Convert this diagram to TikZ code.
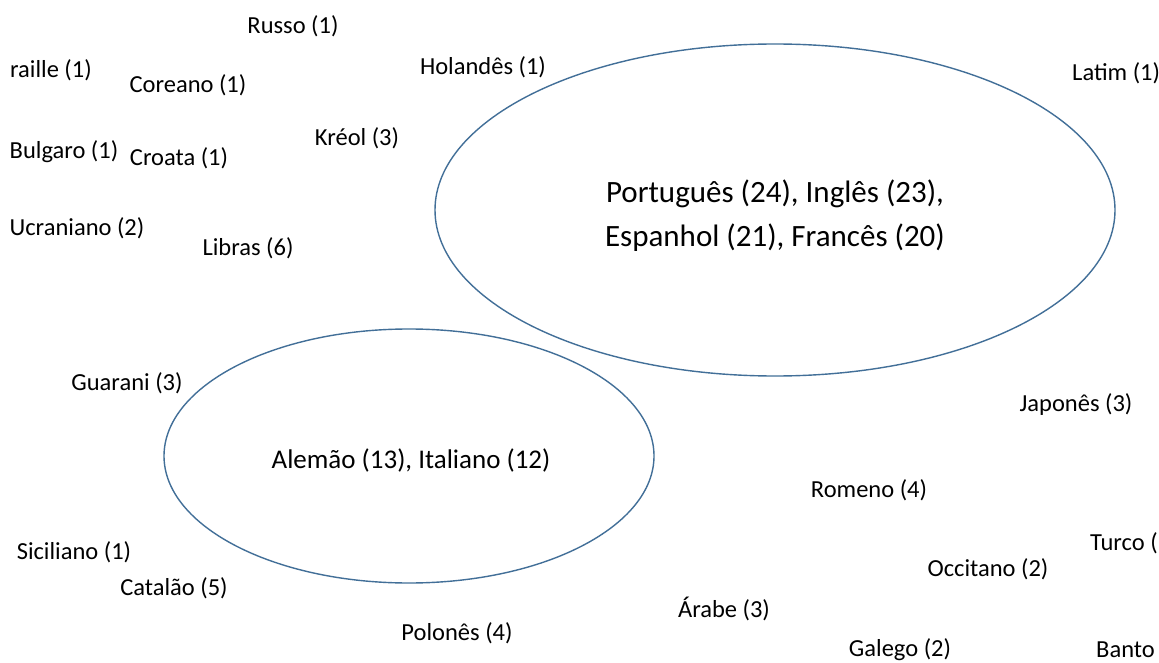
\documentclass[tikz,border=0pt]{standalone}
\usepackage{fontspec}
\setmainfont{Carlito}
\usetikzlibrary{shapes.geometric}
\definecolor{ringblue}{RGB}{66,111,152}
\tikzset{
  lang/.style={inner sep=0pt, anchor=center, font=\fontsize{24.5}{28}\selectfont},
  biglang/.style={inner sep=0pt, align=center, font=\fontsize{31}{44}\selectfont},
  midlang/.style={inner sep=0pt, font=\fontsize{27}{30}\selectfont},
  ring/.style={ellipse, draw=ringblue, line width=1.4pt, inner sep=0pt, outer sep=0pt}
}
\begin{document}
\begin{tikzpicture}[x=1pt,y=-1pt]
\useasboundingbox (0,0) rectangle (1159,663);
\fill[white] (0,0) rectangle (1159,663);
\clip (0,0) rectangle (1159,663);
\node[ring, minimum width=680pt, minimum height=332pt] (big) at (775,210) {};
\node[ring, minimum width=490pt, minimum height=254pt] (small) at (409,456) {};
\node[biglang] (pt) at (775,216) {Português (24), Inglês (23),\\Espanhol (21), Francês (20)};
\node[midlang] (al) at (411,460) {Alemão (13), Italiano (12)};
\node[lang] (russo) at (293,26) {Russo (1)};
\node[lang, anchor=east] (braille) at (92,70) {raille (1)};
\node[lang] (coreano) at (188,85) {Coreano (1)};
\node[lang] (holandes) at (483,67) {Holandês (1)};
\node[lang, anchor=west] (latim) at (1072,73) {Latim (1)};
\node[lang] (kreol) at (357,138) {Kréol (3)};
\node[lang] (bulgaro) at (64,152) {Bulgaro (1)};
\node[lang] (croata) at (179,158) {Croata (1)};
\node[lang] (ucraniano) at (77,228) {Ucraniano (2)};
\node[lang] (libras) at (248,248) {Libras (6)};
\node[lang] (guarani) at (127,383) {Guarani (3)};
\node[lang] (japones) at (1076,405) {Japonês (3)};
\node[lang] (romeno) at (869,490) {Romeno (4)};
\node[lang, anchor=west] (turco) at (1090,543) {Turco (};
\node[lang] (siciliano) at (74,552) {Siciliano (1)};
\node[lang] (catalao) at (174,588) {Catalão (5)};
\node[lang] (occitano) at (988,569) {Occitano (2)};
\node[lang] (arabe) at (724,609) {Árabe (3)};
\node[lang] (polones) at (457,633) {Polonês (4)};
\node[lang] (galego) at (900,650) {Galego (2)};
\node[lang, anchor=west] (banto) at (1096,650) {Banto};
\end{tikzpicture}
\end{document}
